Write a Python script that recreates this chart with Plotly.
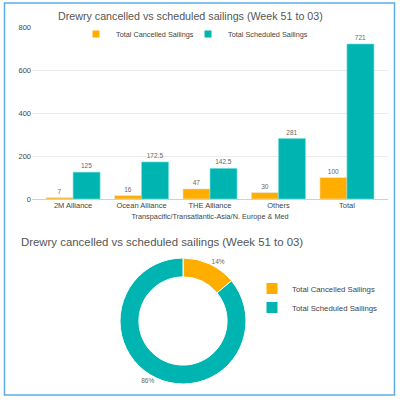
import plotly.graph_objects as go

categories = ["2M Alliance", "Ocean Alliance", "THE Alliance", "Others", "Total"]
cancelled = [7, 16, 47, 30, 100]
scheduled = [125, 172.5, 142.5, 281, 721]
cancelled_text = ["7", "16", "47", "30", "100"]
scheduled_text = ["125", "172.5", "142.5", "281", "721"]
series_names = ["Total Cancelled Sailings", "Total Scheduled Sailings"]
pie_values = [14, 86]
y_ticks = [0, 200, 400, 600, 800]

ORANGE = "#FFAE00"
TEAL = "#00B5B1"
FONT = "Liberation Sans, Arial, sans-serif"
GRAY = "#666666"
W = H = 400.0

def px(x):
    return x / W

def py(y):
    return 1 - y / H

fig = go.Figure()

fig.add_trace(go.Bar(x=categories, y=cancelled, name=series_names[0], marker_color=ORANGE,
                     text=cancelled_text, textposition="outside", cliponaxis=False,
                     textfont=dict(size=6.5, color=GRAY, family=FONT), showlegend=False))
fig.add_trace(go.Bar(x=categories, y=scheduled, name=series_names[1], marker_color=TEAL,
                     marker_line=dict(color="#7FE0DC", width=0.6),
                     text=scheduled_text, textposition="outside", cliponaxis=False,
                     textfont=dict(size=6.5, color=GRAY, family=FONT), showlegend=False))

# legend entries for the bar chart (one legend each, to control spacing)
for name, col, lg in zip(series_names, [ORANGE, TEAL], ["legend", "legend3"]):
    fig.add_trace(go.Scatter(x=[None], y=[None], mode="markers", name=name,
                             marker=dict(symbol="square", size=7, color=col),
                             legend=lg, showlegend=True))

fig.add_trace(go.Pie(labels=series_names, values=pie_values, hole=0.7, sort=False,
                     direction="clockwise", rotation=0,
                     marker=dict(colors=[ORANGE, TEAL], line=dict(color="white", width=1)),
                     textinfo="percent", textposition="outside",
                     texttemplate="%{percent:.0%}",
                     textfont=dict(size=6.5, color=GRAY, family=FONT),
                     domain=dict(x=[px(120), px(246)], y=[py(384), py(258)]),
                     legend="legend2", showlegend=True))

bar_legend_style = dict(orientation="h", yanchor="middle", xanchor="left",
                        font=dict(size=7.3, color="#444"), bgcolor="rgba(0,0,0,0)", itemwidth=30)

fig.update_layout(
    width=400, height=400,
    margin=dict(l=0, r=0, t=0, b=0),
    paper_bgcolor="white", plot_bgcolor="white",
    font=dict(family=FONT, color=GRAY),
    barmode="group", bargap=0.21, bargroupgap=0,
    xaxis=dict(domain=[px(32), px(388)], range=[-0.6, 4.6], showgrid=False,
               showline=False, ticks="", tickfont=dict(size=7.5, color="#444"),
               title=dict(text="Transpacific/Transatlantic-Asia/N. Europe & Med",
                          font=dict(size=7.3, color="#444"), standoff=5),
               automargin=False, fixedrange=True),
    yaxis=dict(domain=[py(199), py(27)], range=[0, 800], tickvals=y_ticks,
               showgrid=True, gridcolor="#EBEBEB", gridwidth=1,
               zeroline=True, zerolinecolor="#D0D0D0", zerolinewidth=1,
               showline=False, ticks="", tickfont=dict(size=7.5, color="#444"),
               automargin=False, fixedrange=True),
    legend=dict(x=px(76), y=py(34), **bar_legend_style),
    legend3=dict(x=px(188), y=py(34), **bar_legend_style),
    legend2=dict(orientation="v", x=px(252), xanchor="left", y=py(298), yanchor="middle",
                 font=dict(size=7.8, color="#444"), bgcolor="rgba(0,0,0,0)",
                 itemwidth=30, tracegroupgap=2),
    annotations=[
        dict(text="Drewry cancelled vs scheduled sailings (Week 51 to 03)", x=px(190), y=py(16),
             xref="paper", yref="paper", xanchor="center", yanchor="middle", showarrow=False,
             font=dict(size=10.7, color="#555", family=FONT)),
        dict(text="Drewry cancelled vs scheduled sailings (Week 51 to 03)", x=px(19), y=py(242),
             xref="paper", yref="paper", xanchor="left", yanchor="middle", showarrow=False,
             font=dict(size=11.4, color="#555", family=FONT)),
    ],
    shapes=[
        dict(type="rect", xref="paper", yref="paper", x0=px(4.5), x1=px(394.5), y0=py(395), y1=py(3),
             line=dict(color="#5AAEE8", width=1.5), fillcolor="rgba(0,0,0,0)", layer="above"),
    ],
)

fig.write_html("out.html", config={"displayModeBar": False},
               post_script="document.body.style.margin='0';document.body.style.padding='0';")
